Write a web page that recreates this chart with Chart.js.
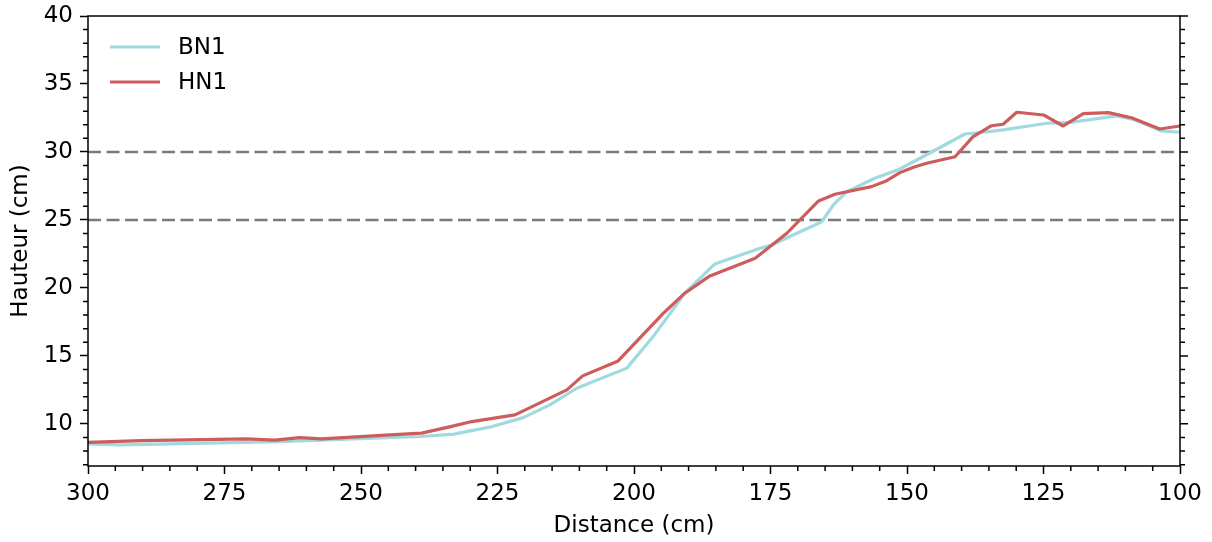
<!DOCTYPE html>
<html>
<head>
<meta charset="utf-8">
<script src="https://cdn.jsdelivr.net/npm/chart.js@4.4.0/dist/chart.umd.min.js"></script>
<style>
  html, body { margin: 0; padding: 0; background: #fff; }
</style>
</head>
<body>
<canvas id="chart" width="1212" height="542"></canvas>
<script>
"use strict";

// Profils BN1 / HN1 (distance en cm, hauteur en cm)
const bnDistance = [300, 294, 265, 239, 233, 226, 220.3, 215.4, 210.5, 201.3, 196.5, 190.7, 185.2, 176.9, 174.8, 165.6, 163.5, 161, 155.9, 151.3, 148.2, 139.4, 136, 132.4, 124.4, 120.1, 111.6, 108.5, 103.4, 100];
const bnHeight = [8.53, 8.45, 8.7, 9.07, 9.24, 9.8, 10.46, 11.4, 12.62, 14.1, 16.42, 19.61, 21.76, 22.92, 23.16, 24.87, 26.1, 27.08, 28.07, 28.75, 29.41, 31.32, 31.45, 31.62, 32.11, 32.18, 32.65, 32.4, 31.54, 31.45];

const hnDistance = [300, 290.3, 270.9, 265.8, 261.2, 257.2, 244.7, 238.9, 234, 229.7, 221.8, 212.3, 209.4, 202.9, 194.6, 190.7, 186.1, 177.8, 172, 166.2, 163.2, 156.5, 153.7, 151.3, 148.8, 146.4, 141.2, 137.9, 134.5, 132.4, 129.9, 125, 121.4, 117.7, 113.1, 108.9, 103.7, 100];
const hnHeight = [8.64, 8.77, 8.9, 8.8, 8.99, 8.9, 9.19, 9.32, 9.76, 10.17, 10.66, 12.5, 13.53, 14.63, 18.14, 19.61, 20.88, 22.18, 24.02, 26.4, 26.89, 27.45, 27.89, 28.48, 28.88, 29.17, 29.65, 31.13, 31.93, 32.04, 32.92, 32.72, 31.91, 32.82, 32.89, 32.52, 31.69, 31.91];

const thresholdLevels = [25, 30];
const xRange = [300, 100];
const xTickLabels = [300, 275, 250, 225, 200, 175, 150, 125, 100];
const yTickLabels = [10, 15, 20, 25, 30, 35, 40];

const FONT = "DejaVu Sans";
const FONT_SIZE = 23;

function toPoints(xs, ys) {
  return xs.map((x, i) => ({ x, y: ys[i] }));
}

const framePlugin = {
  id: "frameAndMinorTicks",
  afterDraw(c) {
    const { ctx, chartArea: a, scales } = c;
    ctx.save();
    ctx.strokeStyle = "#000";
    ctx.lineWidth = 1.5;
    ctx.strokeRect(a.left, a.top, a.right - a.left, a.bottom - a.top);

    ctx.beginPath();
    for (let v = 7; v <= 40; v++) {
      const y = scales.y.getPixelForValue(v);
      const major = v % 5 === 0;
      const len = major ? 8 : 5;
      if (!major) {
        ctx.moveTo(a.left - len, y);
        ctx.lineTo(a.left, y);
      }
      ctx.moveTo(a.right, y);
      ctx.lineTo(a.right + len, y);
    }
    for (let v = 100; v <= 300; v += 5) {
      if (v % 25 === 0) continue;
      const x = scales.x.getPixelForValue(v);
      ctx.moveTo(x, a.bottom);
      ctx.lineTo(x, a.bottom + 5);
    }
    ctx.stroke();

    // legende (sans cadre), en haut a gauche
    const items = c.data.datasets.filter((ds) => ds.inLegend);
    ctx.font = `${FONT_SIZE}px "${FONT}"`;
    ctx.textBaseline = "middle";
    ctx.textAlign = "left";
    items.forEach((ds, i) => {
      const y = a.top + 31 + i * 35;
      ctx.strokeStyle = ds.borderColor;
      ctx.lineWidth = ds.borderWidth;
      ctx.beginPath();
      ctx.moveTo(a.left + 22, y);
      ctx.lineTo(a.left + 72, y);
      ctx.stroke();
      ctx.fillStyle = "#000";
      ctx.fillText(ds.label, a.left + 90, y + 1);
    });
    ctx.restore();
  },
};

const datasets = [
  {
    label: "BN1",
    inLegend: true,
    data: toPoints(bnDistance, bnHeight),
    borderColor: "#a0d9e0",
    borderWidth: 3.2,
    borderJoinStyle: "round",
    pointRadius: 0,
    tension: 0,
    order: 2,
  },
  {
    label: "HN1",
    inLegend: true,
    data: toPoints(hnDistance, hnHeight),
    borderColor: "#cd5c5c",
    borderWidth: 3.2,
    borderJoinStyle: "round",
    pointRadius: 0,
    tension: 0,
    order: 1,
  },
];
thresholdLevels.forEach((level) => {
  datasets.push({
    label: `seuil ${level}`,
    inLegend: false,
    data: xRange.map((x) => ({ x, y: level })),
    borderColor: "#7a7a7a",
    borderWidth: 2.6,
    borderDash: [13, 5.5],
    pointRadius: 0,
    order: 3,
  });
});

new Chart(document.getElementById("chart"), {
  type: "line",
  data: { datasets },
  options: {
    responsive: false,
    devicePixelRatio: 1,
    animation: false,
    layout: { padding: { top: 16, right: 32, left: 0, bottom: 0 } },
    plugins: { legend: { display: false }, tooltip: { enabled: false } },
    scales: {
      x: {
        type: "linear",
        min: 100,
        max: 300,
        reverse: true,
        afterBuildTicks: (s) => { s.ticks = xTickLabels.map((v) => ({ value: v })); },
        afterFit: (s) => { s.height = 76; s.paddingLeft = 0; s.paddingRight = 0; },
        border: { display: false },
        grid: { drawOnChartArea: false, drawTicks: true, tickLength: 8, tickWidth: 1.5, tickColor: "#000" },
        ticks: { color: "#000", font: { family: FONT, size: FONT_SIZE }, padding: 6, maxRotation: 0, autoSkip: false },
        title: { display: true, text: "Distance (cm)", color: "#000", font: { family: FONT, size: FONT_SIZE }, padding: { top: 0, bottom: 2 } },
      },
      y: {
        type: "linear",
        min: 6.9,
        max: 40,
        afterBuildTicks: (s) => { s.ticks = yTickLabels.map((v) => ({ value: v })); },
        afterFit: (s) => { s.width = 88; s.paddingTop = 0; s.paddingBottom = 0; },
        border: { display: false },
        grid: { drawOnChartArea: false, drawTicks: true, tickLength: 8, tickWidth: 1.5, tickColor: "#000" },
        ticks: { color: "#000", font: { family: FONT, size: FONT_SIZE }, padding: 7 },
        title: { display: true, text: "Hauteur (cm)", color: "#000", font: { family: FONT, size: FONT_SIZE }, padding: { top: 7, bottom: 0 } },
      },
    },
  },
  plugins: [framePlugin],
});
</script>
</body>
</html>
